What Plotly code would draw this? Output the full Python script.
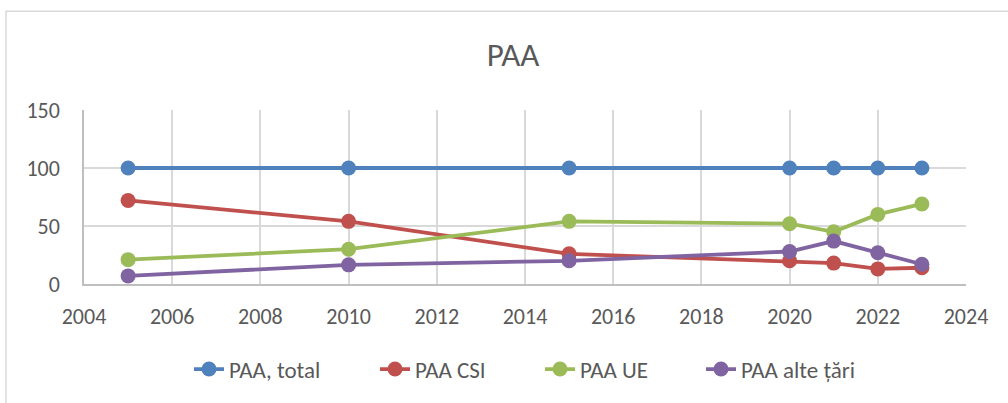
import plotly.graph_objects as go

years = [2005, 2010, 2015, 2020, 2021, 2022, 2023]
paa_total = [100, 100, 100, 100, 100, 100, 100]
paa_csi = [72, 54, 26, 20, 18, 13, 14]
paa_ue = [21, 30, 54, 52, 45, 60, 69]
paa_alte = [7, 16.5, 20, 28, 37, 27, 17]

series_names = ["PAA, total", "PAA CSI", "PAA UE", "PAA alte țări"]
series_colors = ["#4f81bd", "#c0504d", "#9bbb59", "#8064a2"]
series_values = [paa_total, paa_csi, paa_ue, paa_alte]
legend_ids = ["legend", "legend2", "legend3", "legend4"]
legend_px = [189, 375, 540, 701]  # left edge of each legend entry (pixels)

x_ticks = list(range(2004, 2025, 2))
y_ticks = [0, 50, 100, 150]

FONT = "Carlito, Calibri, Liberation Sans Narrow, Open Sans, sans-serif"
PLOT_L, PLOT_W = 84, 882

fig = go.Figure()
for name, color, vals, lid in zip(series_names, series_colors, series_values, legend_ids):
    fig.add_trace(go.Scatter(
        x=years, y=vals, name=name, mode="lines+markers",
        line=dict(color=color, width=3.8),
        marker=dict(color=color, size=15),
        legend=lid,
    ))

legend_layout = {}
for lid, px in zip(legend_ids, legend_px):
    legend_layout[lid] = dict(
        orientation="h", x=(px - PLOT_L) / PLOT_W, xanchor="left",
        y=-0.489, yanchor="middle",
        font=dict(size=23, color="#595959", family=FONT),
        itemwidth=30, bgcolor="rgba(0,0,0,0)",
    )

fig.update_layout(
    width=1008, height=403,
    margin=dict(l=84, r=42, t=110, b=117),
    paper_bgcolor="white", plot_bgcolor="white",
    font=dict(family=FONT, color="#595959", size=22),
    title=dict(text="PAA", x=0.509, xanchor="center", y=0.866, yanchor="middle",
               font=dict(size=33, color="#595959", family=FONT)),
    showlegend=True,
    xaxis=dict(range=[2004, 2024], tickvals=x_ticks, showgrid=True, gridcolor="#d9d9d9",
               gridwidth=1.5, showline=True, linecolor="#bfbfbf", linewidth=1.5,
               ticks="", zeroline=False, tickfont=dict(size=22, color="#595959"),
               ticklabelstandoff=12),
    yaxis=dict(range=[0, 150], tickvals=y_ticks, showgrid=True, gridcolor="#d9d9d9",
               gridwidth=1.5, showline=True, linecolor="#bfbfbf", linewidth=1.5,
               ticks="", zeroline=False, tickfont=dict(size=22, color="#595959"),
               ticklabelstandoff=18),
    shapes=[dict(type="rect", xref="paper", yref="paper",
                 x0=(6 - 84) / 882, x1=(1020 - 84) / 882,
                 y0=(286 - 420) / 176, y1=(286 - 10) / 176,
                 line=dict(color="#d9d9d9", width=1.5), layer="below")],
    **legend_layout,
)

fig.write_html("out.html", config={"displayModeBar": False},
               post_script="document.body.style.margin='0px';")
